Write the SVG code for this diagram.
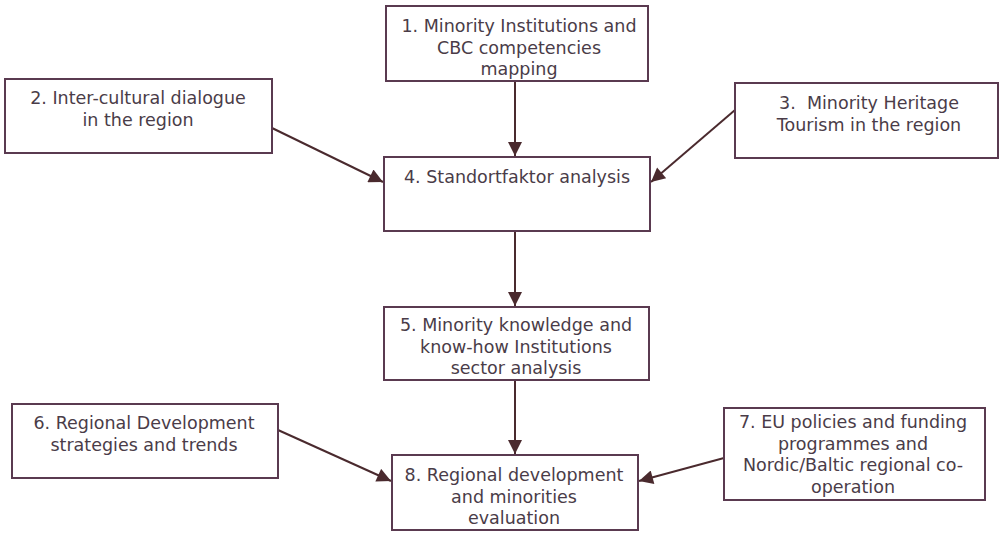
<svg xmlns="http://www.w3.org/2000/svg" width="999" height="533" viewBox="0 0 999 533">
<style>
.box{fill:#fff;stroke:#5a3a50;stroke-width:2}
.t{font-family:"DejaVu Sans",Verdana,sans-serif;font-size:17.5px;fill:#4a3c48;text-anchor:middle}
.c{stroke:#4a2a2e;stroke-width:2;fill:none;marker-end:url(#ah)}
</style>
<defs>
<marker id="ah" viewBox="0 0 10 10" refX="10" refY="5" markerWidth="16" markerHeight="14" markerUnits="userSpaceOnUse" orient="auto">
<path d="M0,0 L10,5 L0,10 z" fill="#4a2a2e"/>
</marker>
</defs>
<rect width="999" height="533" fill="#fff"/>
<g id="connectors">
<line class="c" x1="515" y1="81" x2="515" y2="156"/>
<line class="c" x1="272" y1="128" x2="383" y2="182"/>
<line class="c" x1="735" y1="110" x2="651" y2="182"/>
<line class="c" x1="515" y1="231" x2="515" y2="306"/>
<line class="c" x1="515" y1="380" x2="515" y2="454"/>
<line class="c" x1="278" y1="430" x2="391" y2="481"/>
<line class="c" x1="724" y1="458" x2="639" y2="481"/>
</g>
<g id="n1"><rect class="box" x="386" y="6" width="262" height="75"/>
<text class="t"><tspan x="519" y="32">1. Minority Institutions and</tspan><tspan x="519" y="53.5">CBC competencies</tspan><tspan x="519" y="75">mapping</tspan></text></g>
<g id="n2"><rect class="box" x="5" y="79" width="267" height="74"/>
<text class="t"><tspan x="138" y="104">2. Inter-cultural dialogue</tspan><tspan x="138" y="126">in the region</tspan></text></g>
<g id="n3"><rect class="box" x="735" y="83" width="263" height="75"/>
<text class="t" xml:space="preserve"><tspan x="869" y="109">3.  Minority Heritage</tspan><tspan x="869" y="131">Tourism in the region</tspan></text></g>
<g id="n4"><rect class="box" x="384" y="157" width="266" height="74"/>
<text class="t"><tspan x="517" y="183">4. Standortfaktor analysis</tspan></text></g>
<g id="n5"><rect class="box" x="384" y="307" width="265" height="73"/>
<text class="t"><tspan x="516" y="331">5. Minority knowledge and</tspan><tspan x="516" y="352.5">know-how Institutions</tspan><tspan x="516" y="374">sector analysis</tspan></text></g>
<g id="n6"><rect class="box" x="12" y="404" width="266" height="74"/>
<text class="t"><tspan x="144" y="429">6. Regional Development</tspan><tspan x="144" y="451">strategies and trends</tspan></text></g>
<g id="n7"><rect class="box" x="724" y="408" width="261" height="92"/>
<text class="t"><tspan x="853" y="428">7. EU policies and funding</tspan><tspan x="853" y="449.5">programmes and</tspan><tspan x="853" y="471">Nordic/Baltic regional co-</tspan><tspan x="853" y="493">operation</tspan></text></g>
<g id="n8"><rect class="box" x="392" y="455" width="246" height="75"/>
<text class="t"><tspan x="514" y="481">8. Regional development</tspan><tspan x="514" y="503">and minorities</tspan><tspan x="514" y="524">evaluation</tspan></text></g>
</svg>
